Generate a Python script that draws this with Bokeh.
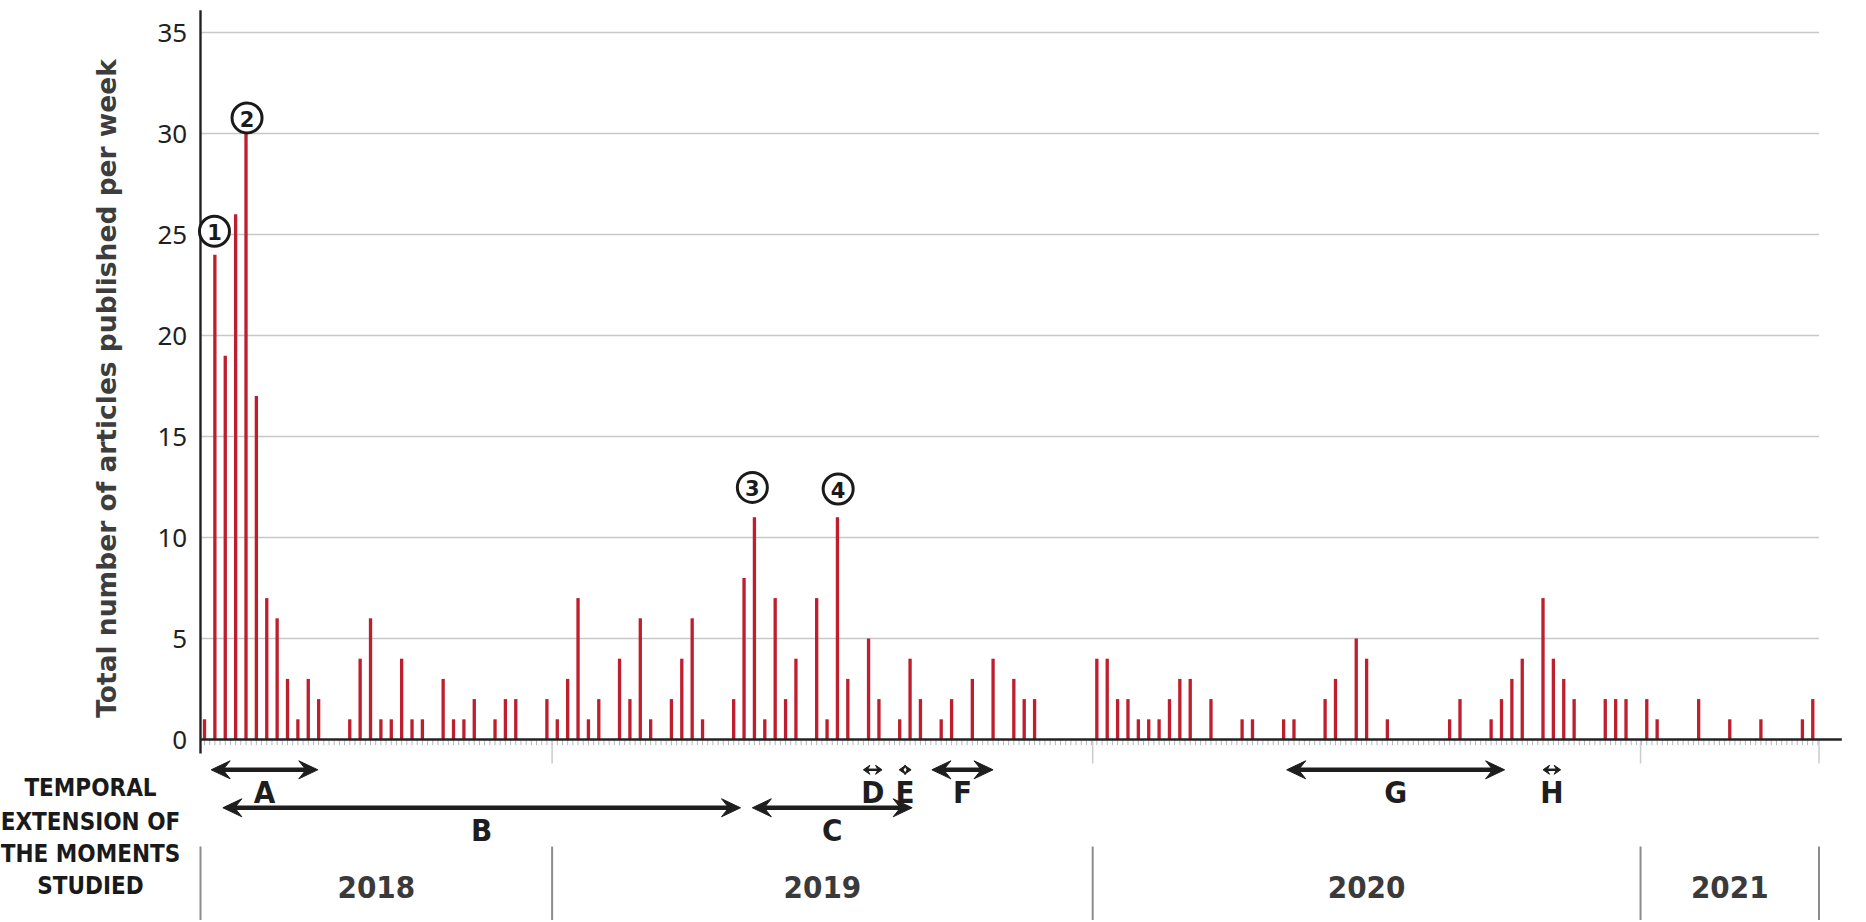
import numpy as np
from bokeh.plotting import figure
from bokeh.models import Range1d, ColumnDataSource
from bokeh.core.properties import value
from bokeh.embed import file_html
from bokeh.resources import INLINE

# ---------------- data ----------------
# week index 0 = first week of the series (mid-2018); weekly article counts (non-zero weeks)
article_week = [0, 1, 2, 3, 4, 5, 6, 7, 8, 9, 10, 11,
                14, 15, 16, 17, 18, 19, 20, 21, 23, 24, 25, 26, 28, 29, 30,
                33, 34, 35, 36, 37, 38, 40, 41, 42, 43, 45, 46, 47, 48, 51, 52, 53, 54, 55, 56, 57, 59, 60, 61, 62,
                64, 65, 67, 68, 69, 71, 72, 74, 76, 78, 79, 80,
                86, 87, 88, 89, 90, 91, 92, 93, 94, 95, 97, 100, 101, 104, 105, 108, 109, 111, 112, 114,
                120, 121, 124, 125, 126, 127, 129, 130, 131, 132, 135, 136, 137, 139, 140, 144, 147, 150, 154, 155]
article_count = [1, 24, 19, 26, 30, 17, 7, 6, 3, 1, 3, 2,
                 1, 4, 6, 1, 1, 4, 1, 1, 3, 1, 1, 2, 1, 2, 2,
                 2, 1, 3, 7, 1, 2, 4, 2, 6, 1, 2, 4, 6, 1, 2, 8, 11, 1, 7, 2, 4, 7, 1, 11, 3,
                 5, 2, 1, 4, 2, 1, 2, 3, 4, 3, 2, 2,
                 4, 4, 2, 2, 1, 1, 1, 2, 3, 3, 2, 1, 1, 1, 1, 2, 3, 5, 4, 1,
                 1, 2, 1, 2, 3, 4, 7, 4, 3, 2, 2, 2, 2, 2, 1, 2, 1, 1, 1, 2]

y_ticks = [0, 5, 10, 15, 20, 25, 30, 35]

year_labels = ["2018", "2019", "2020", "2021"]
year_bounds = [-0.386, 33.5, 85.6, 138.4, 155.6]

# key moments (circled numbers)
peak_labels = ["1", "2", "3", "4"]
peak_x = [0.96, 4.1, 52.8, 61.07]
peak_y = [25.16, 30.77, 12.48, 12.4]

# temporal extension of the moments studied
moment_labels = ["A", "B", "C", "D", "E", "F", "G", "H"]
moment_start = [0.64, 1.77, 52.8, 63.5, 66.95, 70.1, 104.3, 129.0]
moment_end = [10.92, 51.66, 68.2, 65.3, 68.1, 76.0, 125.3, 130.7]
moment_row = [1, 2, 2, 1, 1, 1, 1, 1]

left_caption = ["TEMPORAL", "EXTENSION OF", "THE MOMENTS", "STUDIED"]
y_title = "Total number of articles published per week"

# ---------------- figure ----------------
RED = "#be1e2d"
DARK = "#231f20"
INK = "#1e1e1e"
COND = "DejaVu Sans Condensed"
PXX = 10.376   # px per week
PXY = 20.2     # px per article
W, H = 1864, 920
X0, Y0 = 204.0, 739.0   # canvas position of (week 0, 0 articles)

p = figure(width=W, height=H, output_backend="svg", toolbar_location=None,
           x_range=Range1d(-X0 / PXX, (W - X0) / PXX),
           y_range=Range1d(-(H - Y0) / PXY, Y0 / PXY),
           min_border_left=0, min_border_right=0, min_border_top=0, min_border_bottom=0,
           x_axis_location=None, y_axis_location=None)
p.outline_line_color = None
p.xgrid.visible = False
p.ygrid.visible = False
p.background_fill_color = "white"
p.border_fill_color = "white"

x_left = year_bounds[0]
x_grid_end = year_bounds[-1]

# gridlines
gy = [t for t in y_ticks if t > 0]
p.segment(x0=[x_left] * len(gy), x1=[x_grid_end] * len(gy), y0=gy, y1=gy,
          line_color="#c8c8c8", line_width=1.5)

# y tick labels
p.text(x=[x_left - 13.3 / PXX] * len(y_ticks), y=y_ticks, text=[str(t) for t in y_ticks],
       text_align="right", text_baseline="middle", text_font=value("Noto Sans"),
       text_font_size="26px", text_color=DARK)

# bars
src = ColumnDataSource(dict(week=article_week, count=article_count))
p.vbar(x="week", top="count", bottom=0, width=0.32, source=src,
       fill_color=RED, line_color=None)

# minor ticks under baseline
mt = np.arange(0.0, x_grid_end, 0.5)
p.segment(x0=mt, x1=mt, y0=[0] * len(mt), y1=[-0.28] * len(mt),
          line_color="#b5b5b5", line_width=1)

# year boundary ticks
yb = year_bounds[1:]
p.segment(x0=yb, x1=yb, y0=[0] * len(yb), y1=[-1.19] * len(yb),
          line_color="#cccccc", line_width=1.5)

# baseline and y axis line
p.segment(x0=[x_left], x1=[157.8], y0=[0], y1=[0], line_color="#222222", line_width=2.6)
p.segment(x0=[x_left], x1=[x_left], y0=[-0.69], y1=[36.1], line_color="#222222", line_width=2.4)

# circled numbers
p.scatter(x=peak_x, y=peak_y, size=30, marker="circle", fill_color="white",
          line_color="#1a1a1a", line_width=3)
p.text(x=peak_x, y=peak_y, text=peak_labels, text_align="center", text_baseline="middle",
       text_font=value("DejaVu Sans"), text_font_style="bold", text_font_size="21px",
       text_color="#1a1a1a", y_offset=1)

# moment arrows (shaft + filled vee heads)
row_y = {1: -1.5, 2: -3.38}
row_label_y = {1: -2.62, 2: -4.50}
head_xs, head_ys = [], []
sx0, sx1, sy, sw = [], [], [], []
for lab, s, e, r in zip(moment_labels, moment_start, moment_end, moment_row):
    yc = row_y[r]
    span_px = (e - s) * PXX
    if span_px > 40:
        L, h, lw = 19, 9, 4.6
    else:
        L, h, lw = 6.5, 4.5, 2.5
    Lx, hy, nx = L / PXX, h / PXY, 0.62 * L / PXX
    head_xs.append([s, s + Lx, s + nx, s + Lx])
    head_ys.append([yc, yc + hy, yc, yc - hy])
    head_xs.append([e, e - Lx, e - nx, e - Lx])
    head_ys.append([yc, yc + hy, yc, yc - hy])
    if span_px > 2 * L:
        sx0.append(s + nx)
        sx1.append(e - nx)
        sy.append(yc)
        sw.append(lw)
p.segment(x0=sx0, x1=sx1, y0=sy, y1=sy, line_color=INK, line_width=sw)
p.patches(xs=head_xs, ys=head_ys, fill_color=INK, line_color=INK, line_width=1)

mx = [(s + e) / 2 for s, e in zip(moment_start, moment_end)]
my = [row_label_y[r] for r in moment_row]
p.text(x=mx, y=my, text=moment_labels, text_align="center", text_baseline="alphabetic",
       text_font=value(COND), text_font_style="bold", text_font_size="31px", text_color=INK)

# year band
p.segment(x0=year_bounds, x1=year_bounds, y0=[-5.3] * len(year_bounds), y1=[-9.2] * len(year_bounds),
          line_color="#8c8c8c", line_width=2)
ycx = [(a + b) / 2 for a, b in zip(year_bounds[:-1], year_bounds[1:])]
p.text(x=ycx, y=[-7.3] * len(ycx), text=year_labels, text_align="center", text_baseline="alphabetic",
       text_font=value(COND), text_font_style="bold", text_font_size="31px", text_color="#3a3a3a")

# left caption
cap_y = [-2.40, -4.06, -5.68, -7.26]
p.text(x=[-(X0 - 90) / PXX] * len(left_caption), y=cap_y, text=left_caption,
       text_align="center", text_baseline="alphabetic", text_font=value(COND),
       text_font_style="bold", text_font_size="24px", text_color="#1a1a1a")

# y title
p.text(x=[-(X0 - 106) / PXX], y=[17.38], text=[y_title], angle=np.pi / 2, text_align="center",
       text_baseline="middle", text_font=value("DejaVu Sans"), text_font_style="bold",
       text_font_size="26.5px", text_color="#3d3d3d")

open("out.html", "w").write(file_html(p, INLINE))
